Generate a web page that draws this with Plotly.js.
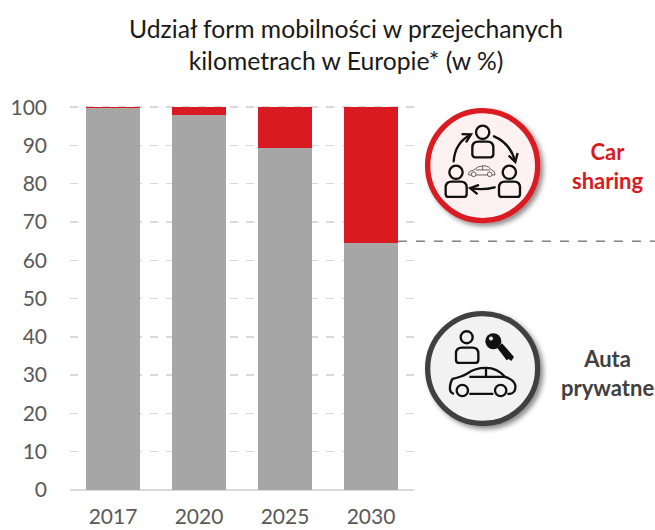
<!DOCTYPE html>
<html><head><meta charset="utf-8">
<script src="https://cdn.plot.ly/plotly-3.0.1.min.js"></script>
<style>html,body{margin:0;padding:0;background:#fff}#c{width:655px;height:530px}</style>
</head><body><div id="c"></div>
<script>
const categories = ['2017','2020','2025','2030'];
const privateCars = [99.7,98,89.3,64.6];
const carSharing = [0.3,2,10.7,35.4];
const yTicks = [0,10,20,30,40,50,60,70,80,90,100];
const titleText = 'Udział form mobilności w przejechanych<br>kilometrach w Europie* (w %)';
const FONT = 'Lato, Carlito, Calibri, sans-serif';
const RED = '#DA1A21', GREY = '#A6A6A6';

const W=655,H=530,L=70,R=414,T=106.35,B=490.5;
const px = x => (x-L)/(R-L);
const py = y => (B-y)/(B-T);

function person(hx,hy,r,x0,x1,y0,y1,sw){
  return `<circle cx="${hx}" cy="${hy}" r="${r}" fill="none" stroke="#111" stroke-width="${sw}"/>`+
   `<path d="M${x0+18} ${y0} H${x1-18} Q${x1} ${y0} ${x1} ${y0+18} V${y1-9} Q${x1} ${y1} ${x1-9} ${y1} H${x0+9} Q${x0} ${y1} ${x0} ${y1-9} V${y0+18} Q${x0} ${y0} ${x0+18} ${y0} Z" fill="none" stroke="#111" stroke-width="${sw}"/>`;
}
function uri(w,h,inner){
  const s=`<svg xmlns="http://www.w3.org/2000/svg" width="${w*2}" height="${h*2}" viewBox="0 0 ${w*3} ${h*3}"><defs><filter id="s" x="-20%" y="-20%" width="150%" height="150%"><feDropShadow dx="9" dy="9" stdDeviation="8" flood-color="#000" flood-opacity="0.45"/></filter><marker id="a" viewBox="0 0 10 10" refX="7" refY="5" markerWidth="5" markerHeight="5" orient="auto"><path d="M1 1 L8 5 L1 9" fill="none" stroke="#111" stroke-width="2"/></marker></defs>${inner}</svg>`;
  return 'data:image/svg+xml;charset=utf-8,'+encodeURIComponent(s);
}
const smallCar = `<g fill="none" stroke="#444" stroke-width="2.5"><path d="M176 256 Q174 244 190 242 Q204 228 222 228 Q236 228 246 242 Q256 244 255 256 Z"/><path d="M198 241 H240 M218 229 V241"/><circle cx="191" cy="254" r="7" fill="#FDF1F1"/><circle cx="239" cy="254" r="7" fill="#FDF1F1"/></g>`;
const redIcon = uri(160,160,
 `<circle cx="218" cy="228" r="165" fill="#FDF1F1" stroke="${RED}" stroke-width="16" filter="url(#s)"/>`+
 person(218,128,20,187,250,156,203,7)+person(138,248,20,107,170,276,322,7)+person(298,248,20,267,330,276,322,7)+
 `<g fill="none" stroke="#111" stroke-width="7" stroke-linecap="round"><path d="M131 215 Q135 160 180 136" marker-end="url(#a)"/><path d="M252 140 Q300 160 315 214" marker-end="url(#a)"/><path d="M254 293 Q220 302 184 296" marker-end="url(#a)"/></g>`+smallCar);
const greyIcon = uri(160,160,
 `<circle cx="218" cy="207" r="165" fill="#F2F2F2" stroke="#404040" stroke-width="16" filter="url(#s)"/>`+
 person(170,113,18,138,205,144,190,7)+
 `<g fill="#111"><circle cx="250" cy="125" r="24"/><path d="M262 145 L276 131 L312 172 L304 184 L296 178 L290 182 Z"/></g><circle cx="243" cy="117" r="6" fill="#F2F2F2"/>`+
 `<g fill="none" stroke="#111" stroke-width="7"><path d="M132 283 Q118 280 120 262 Q122 245 128 238 Q155 232 172 222 Q195 205 228 205 Q262 205 285 232 Q312 240 316 258 Q318 280 300 283 H292 M250 283 H178"/><path d="M178 232 H285 M228 206 V232"/><circle cx="157" cy="273" r="17"/><circle cx="272" cy="273" r="17"/></g>`);

const data = [
 {type:'bar',name:'Auta prywatne',x:categories,y:privateCars,marker:{color:GREY},width:0.63,hoverinfo:'skip'},
 {type:'bar',name:'Car sharing',x:categories,y:carSharing,marker:{color:RED},width:0.63,hoverinfo:'skip'}
];
const layout = {
 width:W,height:H,barmode:'stack',showlegend:false,
 paper_bgcolor:'#fff',plot_bgcolor:'#fff',
 margin:{l:L,r:W-R,t:T,b:H-B,pad:0},
 font:{family:FONT,color:'#595959',size:21},
 title:{text:titleText,x:346/W,xanchor:'center',y:1-38/H,yanchor:'middle',font:{family:FONT,size:24.7,color:'#1a1a1a'}},
 xaxis:{type:'category',categoryorder:'array',categoryarray:categories,showgrid:false,zeroline:false,showline:false,ticks:'',ticklabelstandoff:12,tickfont:{family:FONT,size:21,color:'#595959'}},
 yaxis:{range:[0,100.3],tickvals:yTicks,ticktext:yTicks.map(String),showgrid:true,griddash:'8px,8px',gridcolor:'#D9D9D9',gridwidth:1.5,zeroline:true,zerolinecolor:'#D9D9D9',zerolinewidth:2,ticks:'',ticklabelstandoff:22,tickfont:{family:FONT,size:21,color:'#595959'}},
 shapes:[{type:'line',xref:'paper',yref:'y',x0:px(398),x1:px(655),y0:65,y1:65,line:{color:'#404040',width:1,dash:'dash'}}],
 images:[
  {source:redIcon,xref:'paper',yref:'paper',x:px(410),y:py(90),sizex:160/(R-L),sizey:160/(B-T),xanchor:'left',yanchor:'top',sizing:'stretch',layer:'above'},
  {source:greyIcon,xref:'paper',yref:'paper',x:px(410),y:py(300),sizex:160/(R-L),sizey:160/(B-T),xanchor:'left',yanchor:'top',sizing:'stretch',layer:'above'}
 ],
 annotations:[
  {text:'<b>Car<br>sharing</b>',xref:'paper',yref:'paper',x:px(607),y:py(166),xanchor:'center',yanchor:'middle',showarrow:false,align:'center',font:{family:FONT,size:22,color:RED}},
  {text:'<b>Auta<br>prywatne</b>',xref:'paper',yref:'paper',x:px(607),y:py(373),xanchor:'center',yanchor:'middle',showarrow:false,align:'center',font:{family:FONT,size:22,color:'#404040'}}
 ]
};
Plotly.newPlot('c',data,layout,{displayModeBar:false,staticPlot:true});
</script></body></html>
